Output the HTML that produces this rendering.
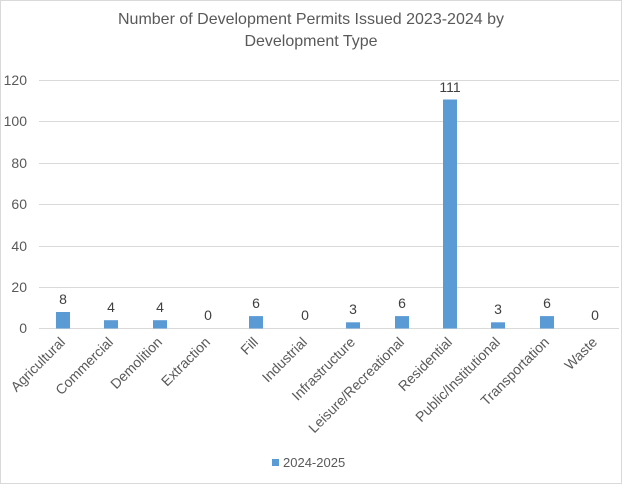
<!DOCTYPE html>
<html><head><meta charset="utf-8"><style>
body{margin:0;background:#fff}
svg{display:block;font-family:"Liberation Sans",Arial,sans-serif}
</style></head><body>
<svg width="622" height="484" viewBox="0 0 622 484">
<rect x="0.5" y="0.5" width="621" height="483" fill="#fff" stroke="#d9d9d9"/>
<text x="311" y="24" font-size="16" fill="#595959" text-anchor="middle">Number of Development Permits Issued 2023-2024 by</text>
<text x="311" y="46" font-size="16" fill="#595959" text-anchor="middle">Development Type</text>
<g stroke="#d9d9d9" stroke-width="1">
<line x1="39" x2="619" y1="80.5" y2="80.5"/>
<line x1="39" x2="619" y1="121.5" y2="121.5"/>
<line x1="39" x2="619" y1="163.5" y2="163.5"/>
<line x1="39" x2="619" y1="204.5" y2="204.5"/>
<line x1="39" x2="619" y1="246.5" y2="246.5"/>
<line x1="39" x2="619" y1="287.5" y2="287.5"/>
<line x1="39" x2="619" y1="328.5" y2="328.5"/>
</g>
<g font-size="14" fill="#595959" text-anchor="end">
<text x="27" y="85">120</text><text x="27" y="126">100</text><text x="27" y="168">80</text>
<text x="27" y="209">60</text><text x="27" y="251">40</text><text x="27" y="292">20</text><text x="27" y="333">0</text>
</g>
<g fill="#5b9bd5">
<rect x="56" y="312" width="14" height="16.5"/>
<rect x="104" y="320.2" width="14" height="8.3"/>
<rect x="153" y="320.2" width="14" height="8.3"/>
<rect x="249" y="316.1" width="14" height="12.4"/>
<rect x="346" y="322.3" width="14" height="6.2"/>
<rect x="395" y="316.1" width="14" height="12.4"/>
<rect x="443" y="99.5" width="14" height="229"/>
<rect x="491" y="322.3" width="14" height="6.2"/>
<rect x="540" y="316.1" width="14" height="12.4"/>
</g>
<g font-size="14" fill="#404040" text-anchor="middle">
<text x="63" y="304">8</text><text x="111" y="312">4</text><text x="160" y="312">4</text>
<text x="208" y="320">0</text><text x="256" y="308">6</text><text x="305" y="320">0</text>
<text x="353" y="314">3</text><text x="402" y="308">6</text><text x="450" y="92">111</text>
<text x="498" y="314">3</text><text x="547" y="308">6</text><text x="595" y="320">0</text>
</g>
<g font-size="14" fill="#595959" text-anchor="end">
<text transform="translate(66,343) rotate(-45)">Agricultural</text>
<text transform="translate(114,343) rotate(-45)">Commercial</text>
<text transform="translate(163,343) rotate(-45)">Demolition</text>
<text transform="translate(211,343) rotate(-45)">Extraction</text>
<text transform="translate(259,343) rotate(-45)">Fill</text>
<text transform="translate(308,343) rotate(-45)">Industrial</text>
<text transform="translate(356,343) rotate(-45)">Infrastructure</text>
<text transform="translate(405,343) rotate(-45)">Leisure/Recreational</text>
<text transform="translate(453,343) rotate(-45)">Residential</text>
<text transform="translate(501,343) rotate(-45)">Public/Institutional</text>
<text transform="translate(550,343) rotate(-45)">Transportation</text>
<text transform="translate(598,343) rotate(-45)">Waste</text>
</g>
<rect x="272" y="459" width="7" height="7" fill="#5b9bd5"/>
<text x="283" y="467" font-size="13" fill="#595959">2024-2025</text>
</svg>
</body></html>
